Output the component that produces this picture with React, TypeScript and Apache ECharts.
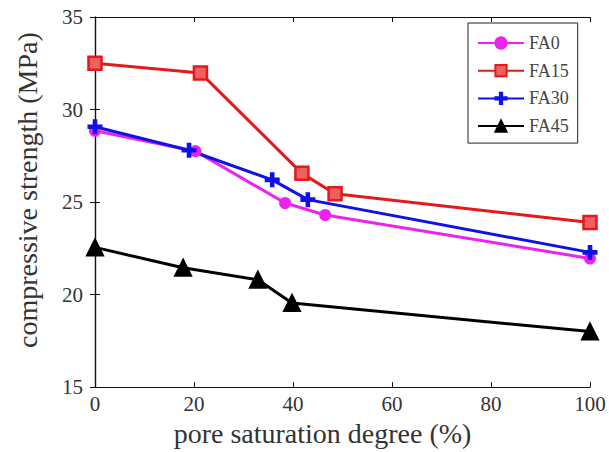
import React, { useEffect, useRef } from "react";
import * as echarts from "echarts";

const seriesNames = ["FA0", "FA15", "FA30", "FA45"];
const fa0: [number, number][] = [[0, 28.85], [20.3, 27.75], [38.4, 24.95], [46.5, 24.3], [100, 21.95]];
const fa15: [number, number][] = [[0, 32.5], [21.3, 31.98], [41.8, 26.55], [48.5, 25.45], [100, 23.9]];
const fa30: [number, number][] = [[0, 29.07], [19.0, 27.8], [35.8, 26.2], [43.0, 25.13], [100, 22.28]];
const fa45: [number, number][] = [[0, 22.55], [17.8, 21.45], [32.9, 20.8], [39.8, 19.55], [100, 18.0]];
const xTicks = { min: 0, max: 100, interval: 20 };
const yTicks = { min: 15, max: 35, interval: 5 };

const FONT = "Liberation Serif";
const PLUS = "path://M4,0H6V4H10V6H6V10H4V6H0V4H4Z";

export default function App() {
  const ref = useRef<HTMLDivElement>(null);
  useEffect(() => {
    if (!ref.current) return;
    const chart = echarts.init(ref.current, undefined, { renderer: "svg" });
    const axisLine = { show: true, lineStyle: { color: "#111", width: 1.2 } };
    const axisTick = { show: true, inside: true, length: 5, lineStyle: { color: "#111", width: 1 } };
    const lbl = { fontFamily: FONT, fontSize: 21, color: "#333" };
    const mk = (name: string, data: [number, number][], color: string, symbol: string, size: number, extra: any = {}) => ({
      name,
      type: "line",
      data,
      symbol,
      symbolSize: size,
      showSymbol: true,
      lineStyle: { color, width: 3 },
      itemStyle: { color, borderColor: color, borderWidth: 2, ...extra },
      z: 3,
    });
    chart.setOption({
      animation: false,
      backgroundColor: "#fff",
      grid: { left: 95, right: 19, top: 17, bottom: 64, containLabel: false },
      legend: {
        orient: "vertical",
        left: 468,
        top: 23,
        data: seriesNames,
        itemWidth: 46,
        itemHeight: 14,
        itemGap: 9.7,
        padding: [11, 9, 8, 9],
        borderColor: "#222",
        borderWidth: 1,
        backgroundColor: "#fff",
        textStyle: { fontFamily: FONT, fontSize: 18, color: "#444" },
      },
      xAxis: [
        {
          type: "value",
          ...xTicks,
          name: "pore saturation degree (%)",
          nameLocation: "middle",
          nameGap: 30,
          nameTextStyle: { fontFamily: FONT, fontSize: 28, color: "#333", padding: [0, 40, 0, 0] },
          axisLine,
          axisTick,
          splitLine: { show: false },
          axisLabel: { ...lbl, margin: 6 },
        },
        {
          type: "value",
          ...xTicks,
          position: "top",
          axisLine,
          axisTick,
          splitLine: { show: false },
          axisLabel: { show: false },
        },
      ],
      yAxis: [
        {
          type: "value",
          ...yTicks,
          name: "compressive strength (MPa)",
          nameLocation: "middle",
          nameGap: 54,
          nameTextStyle: { fontFamily: FONT, fontSize: 28, color: "#333", padding: [0, 0, 0, 24] },
          axisLine,
          axisTick,
          splitLine: { show: false },
          axisLabel: { ...lbl, margin: 12 },
        },
        {
          type: "value",
          ...yTicks,
          position: "right",
          axisLine,
          axisTick,
          splitLine: { show: false },
          axisLabel: { show: false },
        },
      ],
      series: [
        mk("FA0", fa0, "#ee22ee", "circle", 10),
        mk("FA15", fa15, "#e41a1a", "rect", 13, { color: "#f06060", borderWidth: 2.5 }),
        mk("FA30", fa30, "#1010e8", PLUS, 13),
        mk("FA45", fa45, "#000000", "triangle", 16),
      ],
    });
    return () => chart.dispose();
  }, []);
  return <div ref={ref} style={{ position: "fixed", left: 0, top: 0, width: 609, height: 452 }} />;
}
